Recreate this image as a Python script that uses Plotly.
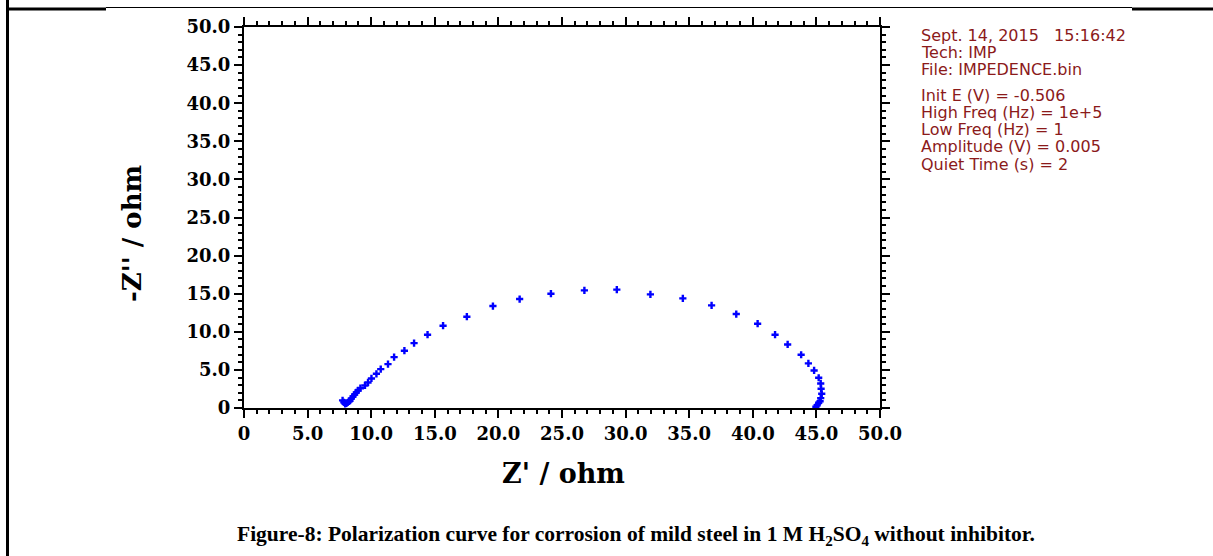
import plotly.graph_objects as go

# ---- data ----
z_real = [7.75, 7.85, 7.95, 8.05, 8.15, 8.25, 8.33, 8.44, 8.57, 8.70, 8.83, 8.96, 9.15,
          9.51, 9.75, 10.02, 10.41, 10.75, 11.32, 11.80, 12.61, 13.37, 14.43, 15.65,
          17.52, 19.57, 21.67, 24.13, 26.76, 29.31, 31.95, 34.50, 36.76, 38.70, 40.38,
          41.75, 42.74, 43.80, 44.37, 44.82, 45.18, 45.34, 45.37, 45.42, 45.34, 45.29,
          45.18, 45.06, 44.96]
z_imag = [1.00, 0.75, 0.55, 0.60, 0.72, 0.85, 0.95, 1.25, 1.51, 1.77, 2.04, 2.30, 2.60,
          2.96, 3.35, 3.88, 4.49, 5.10, 5.76, 6.68, 7.52, 8.52, 9.62, 10.80,
          11.98, 13.38, 14.30, 15.00, 15.44, 15.53, 14.91, 14.39, 13.47, 12.33, 11.06,
          9.62, 8.34, 6.99, 5.85, 4.93, 3.97, 3.22, 2.52, 1.87, 1.29, 0.89,
          0.68, 0.37, 0.16]

x_ticks = [0, 5, 10, 15, 20, 25, 30, 35, 40, 45, 50]
x_tick_labels = ["0", "5.0", "10.0", "15.0", "20.0", "25.0", "30.0", "35.0", "40.0", "45.0", "50.0"]
y_ticks = [0, 5, 10, 15, 20, 25, 30, 35, 40, 45, 50]
y_tick_labels = ["0", "5.0", "10.0", "15.0", "20.0", "25.0", "30.0", "35.0", "40.0", "45.0", "50.0"]

info_lines_top = ["Sept. 14, 2015   15:16:42", "Tech: IMP", "File: IMPEDENCE.bin"]
info_lines_bottom = ["Init E (V) = -0.506", "High Freq (Hz) = 1e+5", "Low Freq (Hz) = 1",
                     "Amplitude (V) = 0.005", "Quiet Time (s) = 2"]

x_title = "Z' / ohm"
y_title = "-Z'' / ohm"
caption = ("Figure-8: Polarization curve for corrosion of mild steel in 1 M "
           "H<sub>2</sub>SO<sub>4</sub> without inhibitor.")

# ---- layout geometry ----
W, H = 1213, 556
L, R, T, B = 244, 333, 27, 148
PW, PH = W - L - R, H - T - B


def px(xp):
    return (xp - L) / PW


def py(yp):
    return (H - B - yp) / PH


serif = "DejaVu Serif"
red = "#8B1A1A"

fig = go.Figure()
fig.add_trace(go.Scatter(
    x=z_real, y=z_imag, mode="markers",
    marker=dict(symbol="cross", size=6, color="#0000FF", line=dict(width=0)),
    showlegend=False, hoverinfo="x+y",
))

axis_common = dict(
    showgrid=False, zeroline=False, showline=True, linecolor="black", linewidth=2,
    mirror="ticks", ticks="outside", ticklen=8, tickwidth=2, tickcolor="black",
    tickfont=dict(family=serif, size=18, color="black", weight="bold"),
    minor=dict(dtick=1, ticks="outside", ticklen=4, tickwidth=1.5, tickcolor="black"),
)

fig.update_xaxes(range=[0, 50], tickmode="array", tickvals=x_ticks, ticktext=x_tick_labels,
                 **axis_common)
fig.update_yaxes(range=[0, 50], tickmode="array", tickvals=y_ticks, ticktext=y_tick_labels,
                 **axis_common)

annotations = []
# axis titles
annotations.append(dict(text=x_title, x=px(563), y=py(474), xref="paper", yref="paper",
                        showarrow=False, xanchor="center", yanchor="middle",
                        font=dict(family=serif, size=27, color="black", weight="bold")))
annotations.append(dict(text=y_title, x=px(132), y=py(234), xref="paper", yref="paper",
                        showarrow=False, xanchor="center", yanchor="middle", textangle=-90,
                        font=dict(family=serif, size=26, color="black", weight="bold")))
# info text
for i, line in enumerate(info_lines_top):
    annotations.append(dict(text=line, x=px(919), y=py(35 + i * 17.4), xref="paper", yref="paper",
                            showarrow=False, xanchor="left", yanchor="middle",
                            font=dict(family="DejaVu Sans", size=16, color=red)))
for i, line in enumerate(info_lines_bottom):
    annotations.append(dict(text=line, x=px(919), y=py(95 + i * 17.3), xref="paper", yref="paper",
                            showarrow=False, xanchor="left", yanchor="middle",
                            font=dict(family="DejaVu Sans", size=16, color=red)))
# caption
annotations.append(dict(text=caption, x=px(636), y=py(535), xref="paper", yref="paper",
                        showarrow=False, xanchor="center", yanchor="middle",
                        font=dict(family="Liberation Serif", size=21.5, color="black", weight="bold")))

shapes = [
    dict(type="line", xref="paper", yref="paper", x0=px(7.5), x1=px(7.5), y0=py(0), y1=py(H),
         line=dict(color="black", width=3)),
    dict(type="line", xref="paper", yref="paper", x0=px(6), x1=px(106), y0=py(9), y1=py(9),
         line=dict(color="black", width=3)),
    dict(type="line", xref="paper", yref="paper", x0=px(106), x1=px(1132), y0=py(7.5), y1=py(7.5),
         line=dict(color="black", width=1.2)),
    dict(type="line", xref="paper", yref="paper", x0=px(1132), x1=px(W), y0=py(9), y1=py(9),
         line=dict(color="black", width=3)),
]

fig.update_layout(
    width=W, height=H, margin=dict(l=L, r=R, t=T, b=B, pad=0),
    paper_bgcolor="white", plot_bgcolor="white",
    annotations=annotations, shapes=shapes,
)

fig.write_html("out.html", config={"displayModeBar": False},
               post_script="document.body.style.margin='0';document.body.style.overflow='hidden';")
